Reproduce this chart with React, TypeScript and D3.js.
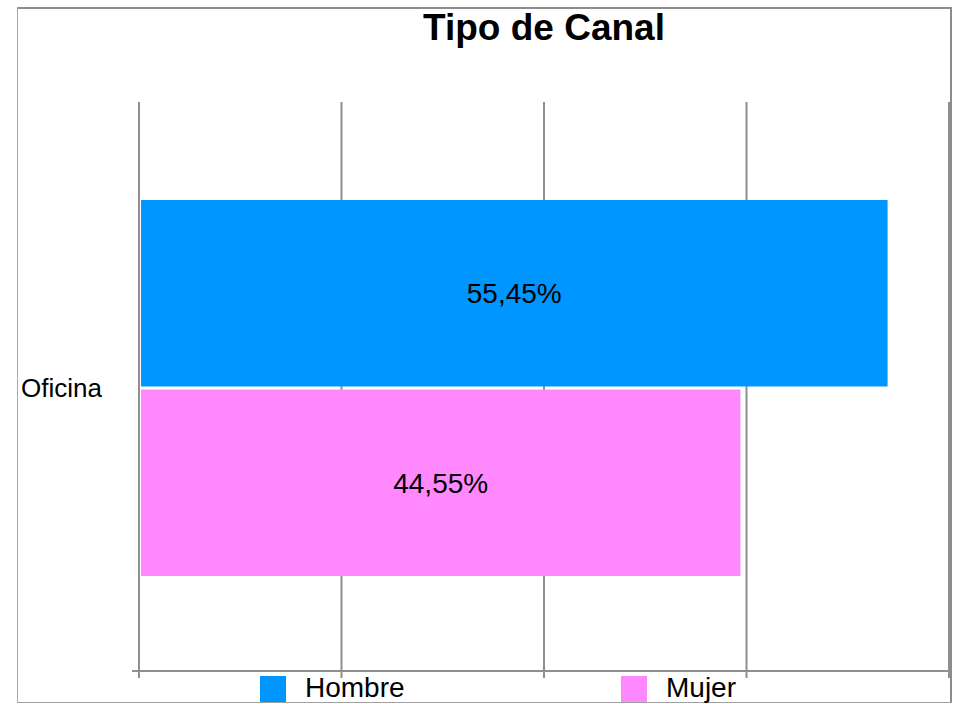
import React, { useEffect, useRef } from "react";
import * as d3 from "d3";

// chart data
const categories = ["Oficina"];
const series = ["Hombre", "Mujer"];
const hombreValues = [55.45];
const mujerValues = [44.55];
const seriesColors = ["#0096ff", "#ff88ff"];
const xTicks = [0, 15, 30, 45, 60];

const fmt = (v: number) => v.toFixed(2).replace(".", ",") + "%";

export default function App() {
  const svgRef = useRef<SVGSVGElement>(null);

  useEffect(() => {
    const svg = d3.select(svgRef.current);
    svg.selectAll("*").remove();

    const width = 955;
    const height = 704;
    const font = "Liberation Sans, Arial, sans-serif";
    const gridColor = "#8f8f8f";

    svg.attr("width", width).attr("height", height);

    // outer frame
    svg.append("rect").attr("width", width).attr("height", height).attr("fill", "#fff");
    const frame = svg.append("g").attr("stroke", "#8c8c8c");
    frame.append("line").attr("x1", 17).attr("x2", 952).attr("y1", 8).attr("y2", 8).attr("stroke-width", 2);
    frame.append("line").attr("x1", 951).attr("x2", 951).attr("y1", 7).attr("y2", 703).attr("stroke-width", 2);
    frame.append("line").attr("x1", 17.5).attr("x2", 17.5).attr("y1", 7).attr("y2", 703).attr("stroke", "#a8a8a8");
    frame.append("line").attr("x1", 17).attr("x2", 952).attr("y1", 702.5).attr("y2", 702.5).attr("stroke", "#a0a0a0");

    const x = d3.scaleLinear().domain([0, 60]).range([139, 949]);
    const y0 = d3
      .scaleBand()
      .domain(categories)
      .range([103, 673])
      .paddingInner(0)
      .paddingOuter(0.258);
    const y1 = d3
      .scaleBand()
      .domain(series)
      .range([0, y0.bandwidth()])
      .paddingInner(0.016);

    // gridlines (behind bars)
    svg
      .append("g")
      .selectAll("line")
      .data(xTicks)
      .join("line")
      .attr("x1", (d) => x(d))
      .attr("x2", (d) => x(d))
      .attr("y1", 102)
      .attr("y2", 678)
      .attr("stroke", gridColor)
      .attr("stroke-width", 2);

    // axis line
    svg
      .append("line")
      .attr("x1", x(0) - 7)
      .attr("x2", x(60) + 2)
      .attr("y1", 671)
      .attr("y2", 671)
      .attr("stroke", gridColor)
      .attr("stroke-width", 2);

    // title
    svg
      .append("text")
      .attr("x", (x(0) + x(60)) / 2)
      .attr("y", 40)
      .attr("text-anchor", "middle")
      .attr("font-family", font)
      .attr("font-weight", "bold")
      .attr("font-size", 37)
      .attr("fill", "#000")
      .text("Tipo de Canal");

    const rows = categories.map((c, i) => ({
      category: c,
      values: [hombreValues[i], mujerValues[i]],
    }));

    const groups = svg
      .append("g")
      .selectAll("g")
      .data(rows)
      .join("g")
      .attr("transform", (d) => `translate(0,${y0(d.category)})`);

    const bars = groups
      .selectAll("g")
      .data((d) => d.values.map((v, j) => ({ key: series[j], value: v, color: seriesColors[j] })))
      .join("g");

    bars
      .append("rect")
      .attr("x", x(0) + 2)
      .attr("y", (d) => y1(d.key)!)
      .attr("width", (d) => x(d.value) - x(0) - 2)
      .attr("height", y1.bandwidth())
      .attr("fill", (d) => d.color);

    bars
      .append("text")
      .attr("x", (d) => (x(0) + 2 + x(d.value)) / 2)
      .attr("y", (d) => y1(d.key)! + y1.bandwidth() / 2 + 10)
      .attr("text-anchor", "middle")
      .attr("font-family", font)
      .attr("font-size", 28)
      .attr("fill", "#000")
      .text((d) => fmt(d.value));

    // category label
    svg
      .append("g")
      .selectAll("text")
      .data(categories)
      .join("text")
      .attr("x", 21)
      .attr("y", (d) => y0(d)! + y0.bandwidth() / 2 + 9)
      .attr("font-family", font)
      .attr("font-size", 26)
      .attr("fill", "#000")
      .text((d) => d);

    // legend
    const legend = svg
      .append("g")
      .selectAll("g")
      .data(series)
      .join("g")
      .attr("transform", (d, i) => `translate(${260 + i * 361},676)`);

    legend
      .append("rect")
      .attr("width", 26)
      .attr("height", 26)
      .attr("fill", (d, i) => seriesColors[i]);

    legend
      .append("text")
      .attr("x", 45)
      .attr("y", 21)
      .attr("font-family", font)
      .attr("font-size", 28)
      .attr("fill", "#000")
      .text((d) => d);
  }, []);

  return (
    <svg
      ref={svgRef}
      style={{ position: "absolute", left: 0, top: 0, display: "block" }}
    ></svg>
  );
}
